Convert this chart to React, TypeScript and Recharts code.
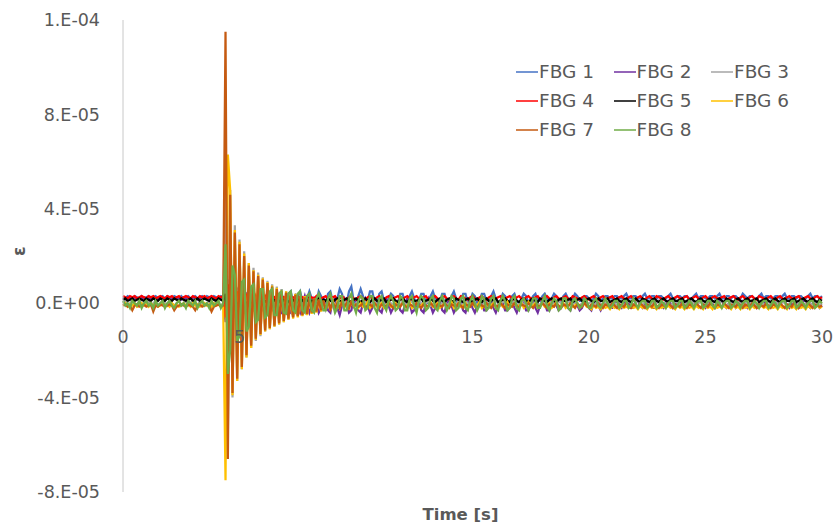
import React from 'react';
import { LineChart, Line, XAxis, YAxis, Legend } from 'recharts';

const FONT = '"DejaVu Sans", sans-serif';
const TEXT = '#595959';

// one sample every 0.1 s, 0..30 s; strain values in units of 1e-6
const TIME_STEP = 0.1;

const FBG1 = [
  2.5, 2, 3, 2.5, 2, 3, 2.5, 2, 3, 2,
  2.5, 3, 2, 2.5, 3, 2, 2.5, 3, 2, 3,
  2.5, 2, 3, 2.5, 2, 3, 2, 2.5, 3, 2,
  2.5, 3, 2, 2.5, 3, 2, 3, 2.5, 2, 3,
  2.5, 2, 3, 2.5, 8, -10, -6, 7, 5, -6,
  -4, 5, 4, -4, -3, 4, 4, -3, -2, 4,
  4, -2, -2, 4, 5, -1, -2, 4, 5, -1,
  -2, 4, 5, 0, -2, 3, 5, 1, -2, 2,
  5, 2, -1, 0, 5, 3, -1, -1, 4, 5,
  1, -2, 2, 6, 4, -1, 0, 5, 7, 1,
  -1, 3, 6, 3, -1, 1, 5, 5, 0, -1,
  4, 5, 1, -1, 2, 4, 3, -1, 0, 4,
  4, 0, -1, 3, 5, 2, -1, 1, 4, 4,
  0, 0, 3, 5, 2, -1, 1, 4, 4, 0,
  0, 3, 5, 2, -1, 1, 4, 4, 0, 1,
  4, 3, 0, 1, 4, 4, 1, 0, 3, 5,
  2, 0, 1, 4, 3, 0, 1, 3, 4, 1,
  0, 2, 4, 3, 0, 1, 3, 4, 1, 1,
  3, 4, 2, 0, 2, 4, 3, 1, 1, 3,
  4, 2, 1, 2, 4, 3, 1, 1, 3, 3,
  2, 1, 2, 4, 3, 1, 2, 3, 3, 2,
  2, 3, 3, 2, 2, 3, 4, 2, 2, 3,
  3, 2, 2, 3, 4, 2, 2, 3, 3, 2,
  3, 3, 2, 2, 3, 4, 2, 2, 3, 3,
  2, 3, 3, 2, 2, 3, 4, 2, 3, 3,
  2, 2, 3, 3, 2, 3, 4, 2, 2, 3,
  3, 2, 3, 3, 2, 2, 4, 3, 2, 3,
  3, 2, 2, 3, 4, 2, 3, 3, 2, 2,
  3, 3, 2, 3, 4, 2, 2, 3, 3, 2,
  3, 3, 2, 2, 3, 4, 2, 3, 3, 2,
  3,
];

const FBG2 = [
  2, 1.5, 2.5, 2, 1.5, 2.5, 2, 1.5, 2, 2.5,
  2, 1.5, 2.5, 2, 1.5, 2, 2.5, 2, 1.5, 2.5,
  2, 1.5, 2, 2.5, 2, 1.5, 2.5, 2, 1.5, 2,
  2.5, 2, 1.5, 2, 2.5, 2, 1.5, 2.5, 2, 1.5,
  2, 2.5, 2, 1.5, -8, 10, 6, -7, -5, 6,
  4, -5, -4, 4, 3, -4, -3, 3, 3, -3,
  -3, 3, 3, -3, -3, 2, 3, -3, -4, 2,
  3, -3, -4, 1, 3, -2, -4, 0, 3, -1,
  -4, -1, 2, 0, -4, -2, 2, 1, -3, -4,
  1, 2, -2, -5, -1, 2, 0, -4, -3, 2,
  1, -3, -4, 0, 2, -1, -4, -2, 2, 1,
  -3, -4, 0, 2, -1, -4, -2, 1, 1, -3,
  -4, -1, 2, 0, -4, -3, 1, 1, -3, -4,
  0, 2, -1, -4, -2, 1, 1, -3, -4, 0,
  1, -1, -4, -2, 1, 0, -3, -4, 0, 1,
  -2, -4, -1, 1, 0, -3, -3, 0, 1, -2,
  -4, -1, 1, 0, -3, -3, 0, 1, -2, -4,
  -1, 1, 0, -3, -3, 0, 1, -2, -4, -1,
  1, 0, -3, -3, 0, 1, -1, -3, -2, 1,
  1, -2, -3, 0, 1, -1, -3, -2, 1, 0,
  -2, -3, 0, 1, -1, -3, -1, 1, 0, -2,
  -2, 0, 1, -1, -2, 0, 1, 0, -2, -2,
  1, 1, -1, -2, 0, 1, 0, -2, -2, 1,
  1, -1, -2, 0, 1, 0, -2, -1, 1, 1,
  -1, -2, 0, 1, 0, -2, -1, 1, 1, -1,
  -2, 0, 1, 0, -2, -1, 1, 1, -1, -2,
  0, 1, 0, -2, -1, 1, 1, -1, -2, 0,
  1, 0, -2, -1, 1, 1, -1, -2, 0, 1,
  0, -2, -1, 1, 1, -1, -2, 0, 1, 0,
  -2, -1, 1, 1, -1, -2, 0, 1, 0, -2,
  -1,
];

const FBG3 = [
  0, 1, -1, 0, 1, 0, -1, 1, 0, -1,
  0, 1, -1, 0, 1, -1, 0, 1, 0, -1,
  1, 0, -1, 0, 1, -1, 0, 1, -1, 0,
  1, 0, -1, 1, 0, -1, 0, 1, -1, 0,
  1, 0, -1, 0, 50, -55, 48, -40, 33, -33,
  27, -28, 22, -23, 17, -19, 15, -16, 13, -14,
  11, -12, 9.5, -11, 8, -10, 7, -9, 6, -8,
  5, -7, 4.5, -6, 4, -5.5, 3.5, -5, 3, -4.5,
  2.5, -4, 2, -3.5, 2, -3, 1.5, -2.5, 1, -2,
  1, -2, 1, -1, 0, 1, -1, 0, 1, -1,
  0, 1, 0, -1, 1, 0, -1, 0, 1, -1,
  0, 1, 0, -1, 1, 0, -1, 1, 0, -1,
  1, 0, -1, 0, 1, -1, 0, 1, 0, -1,
  0, 1, -1, 0, 1, 0, -1, 0, 1, -1,
  0, 1, 0, -1, 1, -1, 0, 1, 0, -1,
  1, 0, -1, 0, 1, -1, 0, 1, -1, 0,
  1, 0, -1, 1, 0, -1, 0, 1, 0, -1,
  0, 1, -1, 0, 1, 0, -1, 1, 0, -1,
  1, 0, -1, 0, 1, -1, 0, 1, 0, -1,
  0, 1, 0, -1, 1, 0, -1, 0, 1, -1,
  0, 1, -1, 0, 1, 0, -1, 1, 0, -1,
  1, 0, -1, 0, 1, -1, 0, 1, 0, -1,
  0, 1, 0, -1, 1, -1, 0, 1, -1, 0,
  1, 0, -1, 1, 0, -1, 0, 1, 0, -1,
  0, 1, -1, 0, 1, 0, -1, 0, 1, -1,
  1, 0, -1, 0, 1, -1, 0, 1, 0, -1,
  0, 1, 0, -1, 1, 0, -1, 1, 0, -1,
  1, 0, -1, 0, 1, -1, 0, 1, -1, 0,
  1, 0, -1, 1, 0, -1, 0, 1, 0, -1,
  0, 1, -1, 0, 1, 0, -1, 1, 0, -1,
  0,
];

const FBG4 = [
  3, 2.5, 2, 3, 2.5, 3, 2, 2.5, 3, 2.5,
  2, 3, 2.5, 3, 2, 2.5, 3, 2.5, 2, 3,
  2.5, 3, 2, 2.5, 3, 2, 2.5, 3, 2.5, 2,
  3, 2.5, 2, 3, 2.5, 3, 2, 2.5, 3, 2.5,
  2, 3, 2.5, 3, -6, 8, -4, 6, -3, 5,
  -2, 4, -1, 4, -1, 3, 0, 3, 0, 3,
  1, 3, 1, 3, 1, 2.5, 1.5, 3, 1, 2.5,
  1.5, 3, 1, 2.5, 2, 3, 1, 2.5, 2, 3,
  1.5, 2.5, 2, 3, 1.5, 2, 2.5, 3, 1.5, 2,
  2.5, 3, 1.5, 2, 3, 2, 1.5, 2.5, 3, 2,
  1.5, 2.5, 3, 2, 1.5, 2.5, 3, 2, 1.5, 2.5,
  3, 2, 1.5, 2.5, 3, 1.5, 2, 2.5, 3, 2,
  1.5, 2.5, 3, 2, 1.5, 2.5, 3, 2, 2, 2.5,
  3, 1.5, 2, 2.5, 3, 2, 1.5, 2.5, 3, 2,
  1.5, 2.5, 3, 2, 1.5, 3, 2.5, 2, 1.5, 2.5,
  3, 2, 1.5, 2.5, 3, 2, 1.5, 2.5, 3, 2,
  2, 2.5, 3, 1.5, 2, 2.5, 3, 2, 1.5, 2.5,
  3, 2, 1.5, 2.5, 3, 2, 2, 2.5, 3, 1.5,
  2, 2.5, 3, 2, 1.5, 2.5, 3, 2, 1.5, 2.5,
  3, 2, 1.5, 3, 2.5, 2, 1.5, 2.5, 3, 2,
  1.5, 2.5, 3, 2, 1.5, 2.5, 3, 2, 2, 2.5,
  3, 1.5, 2, 2.5, 3, 2, 1.5, 2.5, 3, 2,
  1.5, 2.5, 3, 2, 1.5, 2.5, 3, 2, 1.5, 3,
  2.5, 2, 1.5, 2.5, 3, 2, 1.5, 2.5, 3, 2,
  2, 2.5, 3, 1.5, 2, 2.5, 3, 2, 1.5, 2.5,
  3, 2, 1.5, 2.5, 3, 2, 2, 2.5, 3, 1.5,
  2, 2.5, 3, 2, 1.5, 2.5, 3, 2, 1.5, 2.5,
  3, 2, 1.5, 3, 2.5, 2, 1.5, 2.5, 3, 2,
  1.5, 2.5, 3, 2, 1.5, 2.5, 3, 2, 2, 2.5,
  3, 1.5, 2, 2.5, 3, 2, 1.5, 2.5, 3, 2,
  2.5,
];

const FBG5 = [
  1.5, 2, 1, 1.5, 2, 1, 1.5, 2, 1.5, 1,
  2, 1.5, 1, 2, 1.5, 1, 2, 1.5, 1, 2,
  1.5, 1, 2, 1.5, 1, 2, 1.5, 1, 1.5, 2,
  1, 1.5, 2, 1, 1.5, 2, 1.5, 1, 2, 1.5,
  1, 2, 1.5, 1, 4, -5, 3, -3, 3, -2,
  2, -2, 2, -1, 2, -1, 2, 0, 2, 0,
  2, 0.5, 1.5, 0.5, 2, 1, 1.5, 0.5, 2, 1,
  1.5, 0.5, 2, 1, 1.5, 0.5, 2, 1, 1.5, 1,
  2, 0.5, 1.5, 1, 2, 0.5, 1.5, 1, 2, 1,
  0.5, 1.5, 2, 1, 0.5, 1.5, 2, 1, 0.5, 1.5,
  2, 1, 0.5, 1.5, 2, 1, 0.5, 1.5, 2, 1,
  1, 1.5, 2, 0.5, 1, 1.5, 2, 1, 0.5, 1.5,
  2, 1, 0.5, 1.5, 2, 1, 1, 1.5, 2, 0.5,
  1, 1.5, 2, 1, 0.5, 1.5, 2, 1, 0.5, 1.5,
  2, 1, 0.5, 2, 1.5, 1, 0.5, 1.5, 2, 1,
  0.5, 1.5, 2, 1, 0.5, 1.5, 2, 1, 1, 1.5,
  2, 0.5, 1, 1.5, 2, 1, 0.5, 1.5, 2, 1,
  0.5, 1.5, 2, 1, 0.5, 1.5, 2, 1, 0.5, 2,
  1.5, 1, 0.5, 1.5, 2, 1, 0.5, 1.5, 2, 1,
  1, 1.5, 2, 0.5, 1, 1.5, 2, 1, 0.5, 1.5,
  2, 1, 0.5, 1.5, 2, 1, 1, 1.5, 2, 0.5,
  1, 1.5, 2, 1, 0.5, 1.5, 2, 1, 0.5, 1.5,
  2, 1, 0.5, 2, 1.5, 1, 0.5, 1.5, 2, 1,
  0.5, 1.5, 2, 1, 0.5, 1.5, 2, 1, 1, 1.5,
  2, 0.5, 1, 1.5, 2, 1, 0.5, 1.5, 2, 1,
  0.5, 1.5, 2, 1, 0.5, 1.5, 2, 1, 0.5, 2,
  1.5, 1, 0.5, 1.5, 2, 1, 0.5, 1.5, 2, 1,
  1, 1.5, 2, 0.5, 1, 1.5, 2, 1, 0.5, 1.5,
  2, 1, 0.5, 1.5, 2, 1, 1, 1.5, 2, 0.5,
  1, 1.5, 2, 1, 0.5, 1.5, 2, 1, 0.5, 1.5,
  1,
];

const FBG6 = [
  -1, 0, -1.5, -0.5, -1, 0, -1.5, -1, 0, -1,
  -0.5, -1.5, 0, -1, -0.5, -1.5, -1, 0, -1, -0.5,
  -1.5, 0, -1, -0.5, -1.5, -1, 0, -1, -0.5, -1.5,
  0, -1, -0.5, -1.5, -1, 0, -1, -0.5, -1.5, 0,
  -1, -0.5, -1.5, -1, -75, 63, 48, -39, 31, -33,
  26, -28, 21, -23, 17, -19, 14, -15.5, 12, -13.5,
  10.5, -12, 9, -11, 7.5, -10, 6.5, -9, 5.5, -8,
  5, -7, 4, -6.5, 4, -6, 3, -5.5, 3, -5,
  2, -4.5, 2, -4, 1.5, -3.5, 1, -3, 1, -3,
  1, -2.5, 0.5, -2, 1, -2, 0, -2, 0.5, -1.5,
  -1, -2, 0, -1.5, -1, 0.5, -2, -1, 0, -1.5,
  -1, 0, -2, -1, 0.5, -1.5, -1, 0, -2, -1,
  0, -1.5, -1, 0.5, -2, -1, 0, -1.5, -1, 0,
  -2, -1, 0.5, -1.5, -1, 0, -2, -1, 0, -1.5,
  -1, 0.5, -2, -1, 0, -1.5, -1, 0, -2, -1,
  0, -1.5, -1, 0.5, -2, -1, 0, -1.5, -1, 0,
  -2, -1, 0, -1.5, -1, 0.5, -2, -1, 0, -1.5,
  -1, 0, -2, -1, 0.5, -1.5, -1, 0, -2, -1,
  0, -1.5, -1, 0, -2, -1, 0.5, -1.5, -1, 0,
  -2, -1, 0, -1.5, -1, 0, -2, -1, 0, -1.5,
  -1.5, -2.5, -1, -2, -1.5, -2.5, -1, -2, -1.5, -2.5,
  -1, -2, -1.5, -2.5, -1, -2, -1.5, -2, -1, -2,
  -1.5, -2.5, -1, -2, -1.5, -2.5, -1, -2, -1.5, -2.5,
  -1, -2, -1.5, -2, -1, -2, -1.5, -2.5, -1, -2,
  -1.5, -2.5, -1, -2, -1.5, -2.5, -1, -2, -1.5, -2.5,
  -1, -2, -1.5, -2.5, -1, -2, -1.5, -2, -1, -2,
  -1.5, -2.5, -1, -2, -1.5, -2.5, -1, -2, -1.5, -2.5,
  -1, -2, -1.5, -2, -1, -2, -1.5, -2.5, -1, -2,
  -1.5, -2.5, -1, -2, -1.5, -2.5, -1, -2, -1.5, -2.5,
  -1, -2, -1.5, -2.5, -1, -2, -1.5, -2, -1, -2,
  -1.5,
];

const FBG7 = [
  -1, -0.5, -1.5, -1, -3, -1, -0.5, -1.5, -1, -0.5,
  -1.5, -1, -0.5, -3.5, -1, -1.5, -0.5, -1, -1.5, -1,
  -0.5, -1, -3, -1.5, -1, -0.5, -1, -1.5, -0.5, -1,
  -1.5, -3, -1, -0.5, -1.5, -1, -0.5, -1, -3.5, -1.5,
  -1, -0.5, -1.5, -1, 115, -66, 46, -38, 30, -32,
  25, -27, 20, -22, 16, -18, 13.5, -15, 11.5, -13,
  10, -11.5, 8.5, -10.5, 7, -9.5, 6, -8.5, 5, -7.5,
  4.5, -6.5, 4, -6, 3.5, -5.5, 3, -5, 2.5, -4.5,
  2, -4, 2, -3.5, 1.5, -3, 1, -3, 1, -2.5,
  0.5, -2, 0, -2, 0.5, -1.5, 0, -2, 0.5, -1.5,
  -0.5, -1.5, -1, 0, -2, -1, -0.5, -1.5, 0, -1,
  -2, -0.5, -1, -1.5, 0, -1, -2, -0.5, -1, -1.5,
  0, -1, -2, -0.5, -1, -1.5, 0, -1, -2, -0.5,
  -1, -1.5, 0, -1, -2, -0.5, -1, -1.5, 0, -1,
  -2, -0.5, -1, -1.5, 0, -1, -2, -0.5, -1, -1.5,
  0, -1, -2, -0.5, -1, -1.5, 0, -1, -2, -0.5,
  -1, -1.5, 0, -1, -2, -0.5, -1, -1.5, 0, -1,
  -2, -0.5, -1, -1.5, 0, -1, -2, -0.5, -1, -1.5,
  0, -1, -2, -0.5, -1, -1.5, 0, -1, -2, -0.5,
  -1, -1.5, 0, -1, -2, -0.5, -1, -1.5, 0, -1,
  -2, -0.5, -1, -1.5, 0, -1, -2, -0.5, -1, -1.5,
  0, -1, -2, -0.5, -1, -1.5, 0, -1, -2, -0.5,
  -1, -1.5, 0, -1, -2, -0.5, -1, -1.5, 0, -1,
  -2, -0.5, -1, -1.5, 0, -1, -2, -0.5, -1, -1.5,
  0, -1, -2, -0.5, -1, -1.5, 0, -1, -2, -0.5,
  -1, -1.5, 0, -1, -2, -0.5, -1, -1.5, 0, -1,
  -2, -0.5, -1, -1.5, 0, -1, -2, -0.5, -1, -1.5,
  0, -1, -2, -0.5, -1, -1.5, 0, -1, -2, -0.5,
  -1, -1.5, 0, -1, -2, -0.5, -1, -1.5, 0, -1,
  -2, -0.5, -1, -1.5, 0, -1, -2, -0.5, -1, -1.5,
  -1,
];

const FBG8 = [
  1, -1, 0, -2, 1, 0, -1, 1, -2, 0,
  1, -1, 0, -2, 1, -1, 0, 1, -2, 0,
  1, -1, -2, 0, 1, -1, 0, -2, 1, 0,
  -1, 1, -2, 0, 1, -1, 0, -2, 1, -1,
  0, 1, -2, 0, 25, -30, -20, 16, 12, -16,
  -14, 9, 10, -12, -10, 7, 8, -8, -7, 6,
  6, -6, -5, 5, 6, -5, -5, 4, 5, -4,
  -4.5, 4, 5, -3, -4, 4, 5, -3, -4, 3,
  4, -3, -4, 2, 4, 1, -3, -3, 2, 4,
  0, -4, -2, 3, 3, -3, -3, 2, 4, -1,
  -4, 1, 3, 2, -3, -2, 3, 3, -2, -4,
  2, 3, -1, -3, 1, 3, 1, -3, -2, 3,
  2, -3, -3, 2, 3, -1, -4, 1, 3, 2,
  -3, -2, 2, 3, -2, -3, 1, 3, 0, -3,
  -1, 3, 2, -3, -2, 2, 3, -2, -3, 1,
  3, 0, -3, -1, 3, 2, -3, -2, 2, 3,
  -2, -3, 1, 3, 1, -3, -2, 2, 3, -2,
  -3, 1, 2, 0, -3, -1, 2, 2, -2, -2,
  1, 3, -1, -3, 0, 2, 1, -3, -2, 2,
  2, -2, -3, 1, 2, 0, -2, -1, 2, 1,
  -2, -2, 1, 2, -1, -2, 0, 2, 0, -2,
  -1, 1, 1, -2, -1, 1, 1, -2, -1, 2,
  0, -2, 0, 1, 1, -2, -1, 1, 1, -2,
  -1, 1, 0, -2, 0, 1, 1, -2, -1, 1,
  1, -2, -1, 1, 0, -2, 0, 1, 1, -2,
  -1, 1, 1, -1, -2, 1, 0, -2, 0, 1,
  1, -2, -1, 1, 0, -2, 0, 1, 1, -2,
  -1, 1, 0, -2, 0, 1, 1, -2, -1, 1,
  0, -2, 0, 1, 1, -2, -1, 1, 1, -2,
  -1, 1, 0, -2, 0, 1, 1, -2, -1, 1,
  0,
];

const SERIES = [
  { key: 'fbg1', name: 'FBG 1', color: '#4472C4', values: FBG1 },
  { key: 'fbg2', name: 'FBG 2', color: '#7030A0', values: FBG2 },
  { key: 'fbg3', name: 'FBG 3', color: '#A5A5A5', values: FBG3 },
  { key: 'fbg4', name: 'FBG 4', color: '#FF0000', values: FBG4 },
  { key: 'fbg5', name: 'FBG 5', color: '#000000', values: FBG5 },
  { key: 'fbg6', name: 'FBG 6', color: '#FFC000', values: FBG6 },
  { key: 'fbg7', name: 'FBG 7', color: '#C55A11', values: FBG7 },
  { key: 'fbg8', name: 'FBG 8', color: '#70AD47', values: FBG8 },
];

const X_TICKS = [0, 5, 10, 15, 20, 25, 30];
const Y_MIN = -8e-5;
const Y_MAX = 1.2e-4;
const Y_TICKS = [-8e-5, -4e-5, 0, 4e-5, 8e-5, 1.2e-4];

const data = FBG1.map((_, i) => {
  const row: Record<string, number> = { t: Math.round(i * TIME_STEP * 10) / 10 };
  SERIES.forEach(s => {
    row[s.key] = s.values[i] * 1e-6;
  });
  return row;
});

// Excel "0.E+00" style
function sci(v: number): string {
  if (Math.abs(v) < 1e-15) return '0.E+00';
  let exp = Math.floor(Math.log10(Math.abs(v)) + 1e-9);
  let m = Math.round(v / Math.pow(10, exp));
  if (Math.abs(m) >= 10) {
    m = m / 10;
    exp += 1;
  }
  const sign = exp < 0 ? '-' : '+';
  return `${m}.E${sign}${String(Math.abs(exp)).padStart(2, '0')}`;
}

const W = 835;
const H = 526;
const MARGIN = { top: 20, right: 13, bottom: 0, left: 0 };
const X_AXIS_H = 34;

// the x axis crosses at zero, so its labels hang just under the zero line
const PLOT_H = H - MARGIN.top - MARGIN.bottom - X_AXIS_H;
const ZERO_Y = MARGIN.top + (PLOT_H * Y_MAX) / (Y_MAX - Y_MIN);

const XTick = (props: any) => {
  const { x, payload } = props;
  return (
    <text x={x} y={ZERO_Y + 40} textAnchor="middle" fill={TEXT} fontSize={17.5} fontFamily={FONT}>
      {payload.value}
    </text>
  );
};

const renderLegend = (props: any) => (
  <div
    style={{
      display: 'grid',
      gridTemplateColumns: 'repeat(3, 97.5px)',
      fontFamily: FONT,
      fontSize: 18.5,
      color: TEXT,
    }}
  >
    {(props.payload || []).map((item: any) => (
      <div key={item.value} style={{ display: 'flex', alignItems: 'center', height: 29 }}>
        <svg width={23} height={4}>
          <line x1={0} y1={2} x2={22} y2={2} stroke={item.color} strokeWidth={1.5} />
        </svg>
        <span>{item.value}</span>
      </div>
    ))}
  </div>
);

export default function App() {
  return (
    <div style={{ position: 'absolute', left: 0, top: 0, width: W, height: H, background: '#fff' }}>
      <LineChart width={W} height={H} data={data} margin={MARGIN}>
        <XAxis
          dataKey="t"
          type="number"
          domain={[0, 30]}
          ticks={X_TICKS}
          axisLine={false}
          tickLine={false}
          tickSize={0}
          tickMargin={0}
          tick={<XTick />}
          height={X_AXIS_H}
          label={{
            value: 'Time [s]',
            position: 'insideBottom',
            offset: 6,
            dx: -12,
            fill: TEXT,
            fontSize: 16.5,
            fontWeight: 'bold',
            fontFamily: FONT,
          }}
        />
        <YAxis
          type="number"
          domain={[Y_MIN, Y_MAX]}
          ticks={Y_TICKS}
          tickFormatter={sci}
          allowDataOverflow
          width={123}
          axisLine={{ stroke: '#C8C8C8' }}
          tickLine={false}
          tickSize={0}
          tickMargin={23}
          tick={{ fill: TEXT, fontSize: 17.5, fontFamily: FONT }}
          label={{
            value: 'ε',
            angle: -90,
            position: 'insideLeft',
            offset: 19,
            fill: TEXT,
            fontSize: 17,
            fontWeight: 'bold',
            fontFamily: FONT,
          }}
        />
        <Legend
          content={renderLegend}
          verticalAlign="middle"
          align="center"
          wrapperStyle={{ top: 57, left: 516, width: 310 }}
        />
        {SERIES.map(s => (
          <Line
            key={s.key}
            type="linear"
            dataKey={s.key}
            name={s.name}
            stroke={s.color}
            strokeWidth={2.25}
            dot={false}
            activeDot={false}
            isAnimationActive={false}
          />
        ))}
      </LineChart>
    </div>
  );
}
